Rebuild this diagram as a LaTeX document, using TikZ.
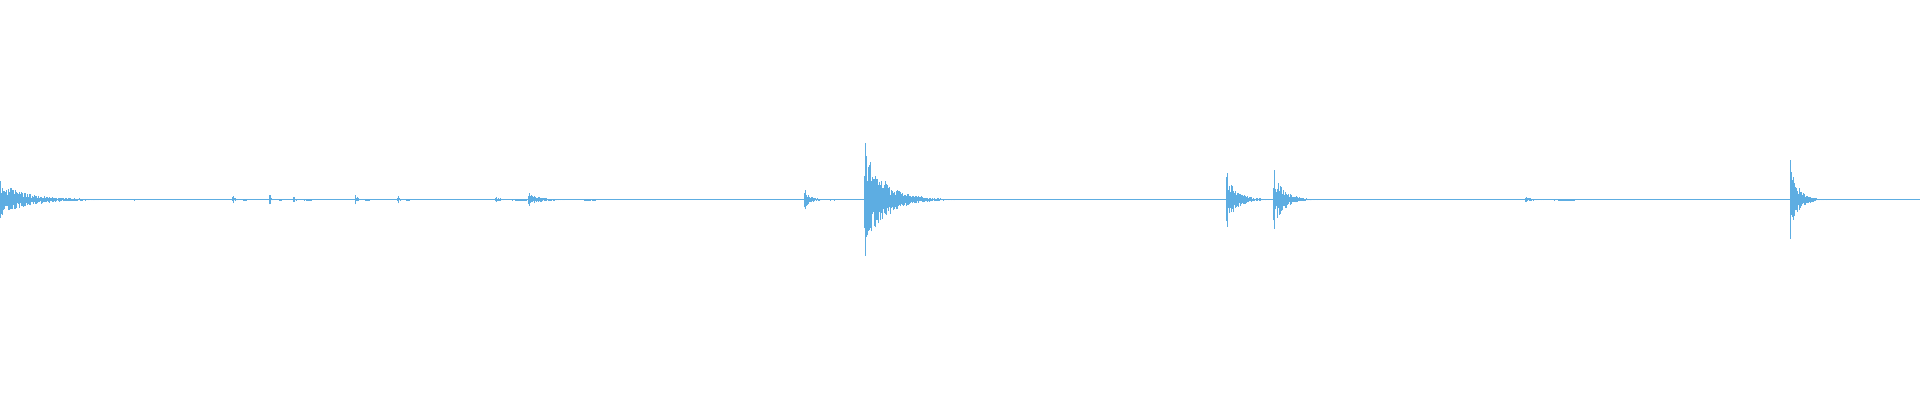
\documentclass[tikz,border=0pt]{standalone}
\definecolor{wave}{RGB}{93,173,226}
\newcommand{\wburst}[3]{% x, amplitude, length (all in px)
  \draw[wavestroke] ({(#1+0.5)/100},{(163+#2)/100}) -- ({(#1+0.5)/100},{(163-#2)/100});
  \foreach \i in {0,0.6,...,#3}{
    \pgfmathsetmacro{\a}{#2*exp(-4.5*\i/#3)*(0.3+0.6*rnd)}
    \pgfmathsetmacro{\b}{#2*exp(-4.5*\i/#3)*(0.3+0.6*rnd)}
    \draw[wavestroke] ({(#1+\i)/100},{(163+\b)/100}) -- ({(#1+\i)/100},{(163-\a)/100});
  }}
\begin{document}
\begin{tikzpicture}[y=-1cm,wavestroke/.style={wave,line width=0.25pt}]
\pgfmathsetseed{7}
\useasboundingbox (0,0) rectangle (15.68,3.27);
\draw[wave,line width=0.3pt] (0,1.63) -- (15.68,1.63);
\wburst{0}{15}{110}
\wburst{190}{3}{12}
\wburst{220}{4}{10}
\wburst{240}{2}{15}
\wburst{290}{4}{12}
\wburst{325}{3}{10}
\wburst{405}{2}{25}
\wburst{432}{5}{55}
\wburst{657}{8}{25}
\wburst{706}{46}{75}
\wburst{1002}{22}{40}
\wburst{1040}{24}{40}
\wburst{1246}{2}{40}
\wburst{1462}{32}{30}
\end{tikzpicture}
\end{document}
